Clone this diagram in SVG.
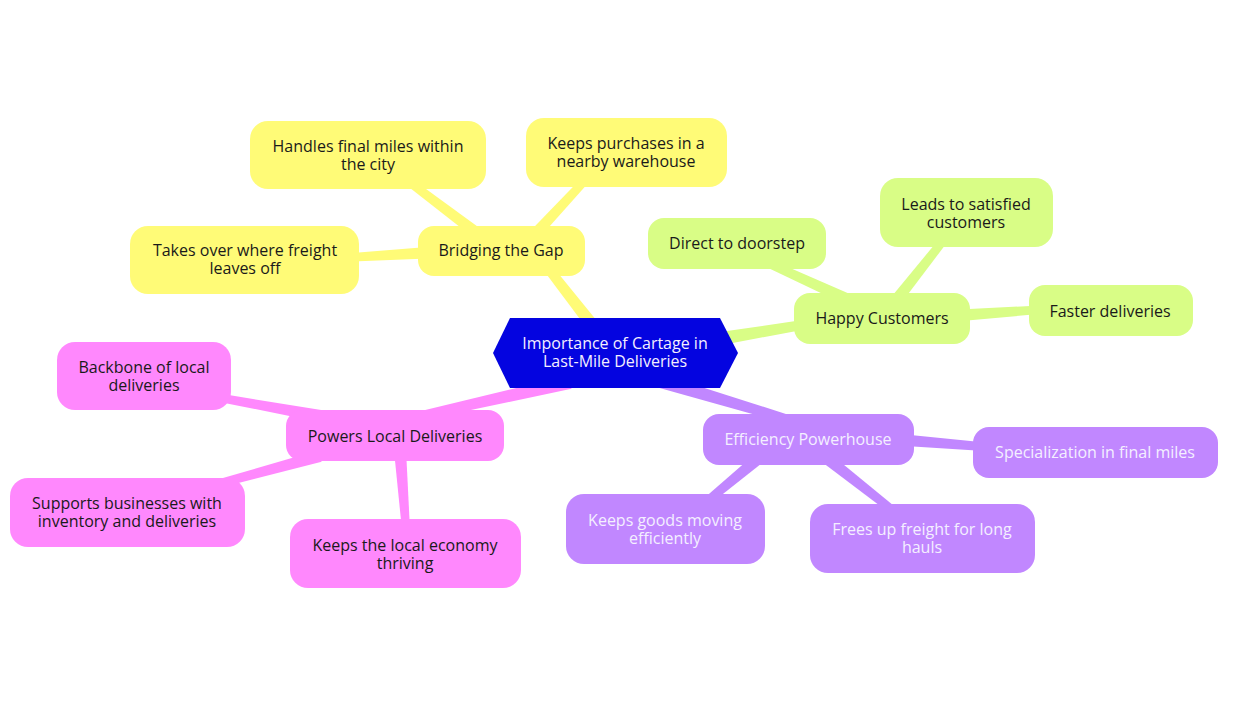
<svg xmlns="http://www.w3.org/2000/svg" width="1254" height="716" viewBox="0 0 1254 716">
<style>
text{font-family:"Open Sans","Noto Sans","Liberation Sans",sans-serif;font-size:16px;text-anchor:middle}
.dk{fill:#1a1a1a}
.lt{fill:#f4efff}
.y{fill:#fffb77}
.g{fill:#d9fd86}
.p{fill:#c187ff}
.k{fill:#ff88fd}
.cy{fill:#fffb77}
.cg{fill:#d9fd86}
.cp{fill:#c187ff}
.ck{fill:#ff88fd}
</style>
<rect width="1254" height="716" fill="#ffffff"/>
<g id="connectors">
<polygon class="cy" points="605.1,331.0 543.6,255.2 536.4,260.8 594.9,339.0"/>
<polygon class="cy" points="493.6,238.2 402.4,171.8 397.6,178.2 486.4,247.8"/>
<polygon class="cy" points="529.4,249.1 592.9,177.7 587.1,172.3 520.6,240.9"/>
<polygon class="cy" points="439.6,246.0 339.8,254.0 340.2,262.0 440.4,258.0"/>
<polygon class="cg" points="701.2,348.9 820.7,326.4 819.3,317.6 698.9,335.1"/>
<polygon class="cg" points="862.5,299.5 751.7,251.4 748.3,258.6 857.5,310.5"/>
<polygon class="cg" points="894.7,311.7 953.1,234.5 946.9,229.5 885.3,304.3"/>
<polygon class="cg" points="950.4,322.0 1050.3,313.0 1049.7,305.0 949.6,310.0"/>
<polygon class="cp" points="648.0,384.7 788.7,424.3 791.3,415.7 652.0,371.3"/>
<polygon class="cp" points="889.5,445.0 999.7,452.0 1000.3,444.0 890.5,433.0"/>
<polygon class="cp" points="761.2,448.4 697.4,503.9 702.6,510.1 768.8,457.6"/>
<polygon class="cp" points="816.3,457.7 897.5,519.1 902.5,512.9 823.7,448.3"/>
<polygon class="ck" points="568.5,375.2 419.0,411.6 421.0,420.4 571.5,388.8"/>
<polygon class="ck" points="321.1,410.1 210.7,392.1 209.3,399.9 318.9,421.9"/>
<polygon class="ck" points="318.4,450.2 209.0,482.1 211.1,489.9 321.6,461.8"/>
<polygon class="ck" points="394.0,450.4 402.0,530.3 410.0,529.7 406.0,449.6"/>
</g>
<g id="center">
<polygon points="493,353 510,318 720,318 738,353 720,388 510,388" fill="#0404e0"/>
<text class="lt" x="615" y="349">Importance of Cartage in</text>
<text class="lt" x="615" y="367">Last-Mile Deliveries</text>
</g>
<g id="bridging">
<rect class="y" x="418" y="226" width="167" height="50" rx="16"/>
<text class="dk" x="501" y="256">Bridging the Gap</text>
</g>
<g id="handles">
<rect class="y" x="250" y="121" width="236" height="68" rx="18"/>
<text class="dk" x="368" y="152">Handles final miles within</text>
<text class="dk" x="368" y="170">the city</text>
</g>
<g id="keeps-purchases">
<rect class="y" x="526" y="118" width="201" height="69" rx="18"/>
<text class="dk" x="626" y="149">Keeps purchases in a</text>
<text class="dk" x="626" y="167">nearby warehouse</text>
</g>
<g id="takes-over">
<rect class="y" x="130" y="226" width="229" height="68" rx="18"/>
<text class="dk" x="245" y="256">Takes over where freight</text>
<text class="dk" x="245" y="274">leaves off</text>
</g>
<g id="happy">
<rect class="g" x="794" y="293" width="176" height="51" rx="16"/>
<text class="dk" x="882" y="324">Happy Customers</text>
</g>
<g id="direct">
<rect class="g" x="648" y="218" width="178" height="51" rx="16"/>
<text class="dk" x="737" y="249">Direct to doorstep</text>
</g>
<g id="leads">
<rect class="g" x="880" y="178" width="173" height="69" rx="18"/>
<text class="dk" x="966" y="210">Leads to satisfied</text>
<text class="dk" x="966" y="228">customers</text>
</g>
<g id="faster">
<rect class="g" x="1029" y="285" width="164" height="51" rx="16"/>
<text class="dk" x="1110" y="317">Faster deliveries</text>
</g>
<g id="efficiency">
<rect class="p" x="703" y="414" width="211" height="51" rx="16"/>
<text class="lt" x="808" y="445">Efficiency Powerhouse</text>
</g>
<g id="specialization">
<rect class="p" x="973" y="427" width="245" height="51" rx="16"/>
<text class="lt" x="1095" y="458">Specialization in final miles</text>
</g>
<g id="keeps-goods">
<rect class="p" x="566" y="494" width="199" height="70" rx="18"/>
<text class="lt" x="665" y="526">Keeps goods moving</text>
<text class="lt" x="665" y="544">efficiently</text>
</g>
<g id="frees">
<rect class="p" x="810" y="504" width="225" height="69" rx="18"/>
<text class="lt" x="922" y="535">Frees up freight for long</text>
<text class="lt" x="922" y="553">hauls</text>
</g>
<g id="powers">
<rect class="k" x="286" y="410" width="218" height="51" rx="16"/>
<text class="dk" x="395" y="442">Powers Local Deliveries</text>
</g>
<g id="backbone">
<rect class="k" x="57" y="342" width="174" height="68" rx="18"/>
<text class="dk" x="144" y="373">Backbone of local</text>
<text class="dk" x="144" y="391">deliveries</text>
</g>
<g id="supports">
<rect class="k" x="10" y="478" width="235" height="69" rx="18"/>
<text class="dk" x="127" y="509">Supports businesses with</text>
<text class="dk" x="127" y="527">inventory and deliveries</text>
</g>
<g id="keeps-economy">
<rect class="k" x="290" y="519" width="231" height="69" rx="18"/>
<text class="dk" x="405" y="551">Keeps the local economy</text>
<text class="dk" x="405" y="569">thriving</text>
</g>
</svg>
